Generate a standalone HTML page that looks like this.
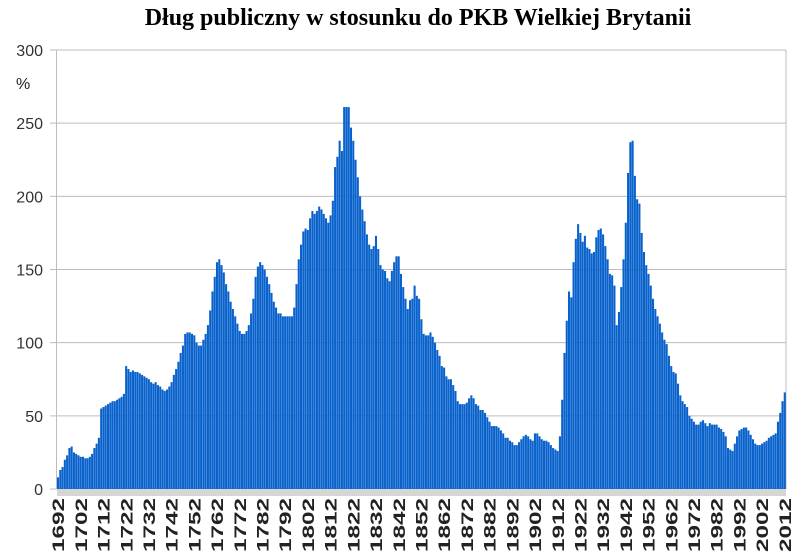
<!DOCTYPE html>
<html><head><meta charset="utf-8"><style>
body{margin:0;background:#fff;width:800px;height:554px;overflow:hidden}
svg{display:block}
</style></head><body>
<svg id="chart" width="800" height="554" xmlns="http://www.w3.org/2000/svg">
<text x="418" y="25" text-anchor="middle" font-family="Liberation Serif, serif" font-weight="bold" font-size="24" fill="#000">Dług publiczny w stosunku do PKB Wielkiej Brytanii</text>
<text x="16" y="89" font-family="Liberation Sans, sans-serif" font-size="16" fill="#222">%</text>
<g id="grid"></g><g id="bars"></g><g id="xaxis"></g>
</svg>
<script>
const startYear = 1692;
const yTicks = [0,50,100,150,200,250,300];
const debt = [
8,13,15,20,23,28,29,25,24,23,
22,22,21,21,22,24,28,31,35,55,
56,57,58,59,60,60,61,62,63,65,
84,82,80,81,80,80,79,78,77,76,
75,73,72,73,71,70,68,67,68,70,
73,78,82,87,93,98,106,107,107,106,
105,100,98,98,102,106,112,122,135,145,
155,157,153,148,140,135,128,123,118,113,
108,106,106,108,112,120,130,145,152,155,
153,150,145,140,134,128,124,120,120,118,
118,118,118,118,124,140,157,167,176,178,
177,185,190,188,190,193,191,188,185,182,
187,197,220,227,238,231,261,261,261,247,
238,225,213,200,191,183,174,167,164,166,
173,164,153,150,149,144,142,149,155,159,
159,147,138,130,123,129,130,139,132,130,
116,106,105,105,107,104,100,95,91,84,
83,77,75,75,71,67,60,58,58,58,
59,62,64,62,58,57,54,54,52,49,
46,43,43,43,42,40,38,35,35,33,
32,30,30,32,34,36,37,36,34,33,
38,38,36,34,33,33,32,30,28,27,
26,36,61,93,115,135,131,155,171,181,
175,169,173,165,164,161,162,172,177,178,
174,166,157,147,146,139,112,121,138,157,
182,216,237,238,214,198,195,175,162,153,
147,139,130,123,118,113,107,102,99,91,
84,80,79,72,64,60,58,56,50,48,
46,44,44,46,47,45,43,45,44,44,
44,42,41,39,36,28,27,26,31,36,
40,41,42,42,40,37,34,31,30,30,
31,32,33,35,36,37,38,46,52,60,66
];
const NS="http://www.w3.org/2000/svg";
const X0=57, X1=786, Y0=489, PXU=1.4633;
const n=debt.length, step=(X1-X0)/n;
const xs=i=>X0+i*step;
const ys=v=>Y0-v*PXU;
function mk(t,a,p){const e=document.createElementNS(NS,t);for(const k in a)e.setAttribute(k,a[k]);p.appendChild(e);return e;}
const grid=document.getElementById('grid');
yTicks.forEach(t=>{
  const l=mk('line',{x1:50,x2:X1,y1:ys(t),y2:ys(t),stroke:'#bdbdbd','stroke-width':1},grid);
  
  
  const tx=mk('text',{x:43,y:ys(t)+6,'text-anchor':'end','font-family':'Liberation Sans, sans-serif','font-size':16,fill:'#333'},grid);
  tx.textContent=t;
  
  
});
const ax=mk('line',{x1:X0-0.5,x2:X0-0.5,y1:ys(300),y2:Y0,stroke:'#bdbdbd'},grid);


const rb=mk('line',{x1:X1,x2:X1,y1:ys(300),y2:Y0,stroke:'#bdbdbd'},grid);


const bars=document.getElementById('bars');
debt.forEach((v,i)=>{
  const r=mk('rect',{x:xs(i),y:ys(v),width:step-0.2,height:v*PXU,fill:'#0962cc'},bars);
  
  
});
const xa=document.getElementById('xaxis');
const tb=mk('rect',{x:X0,y:Y0,width:X1-X0,height:7,fill:'#d6d6d6'},xa);


for(let i=0;i<n;i+=10){
  const cx=xs(i)+step/2+6;
  const t=mk('text',{x:0,y:0,transform:`translate(${cx},498) rotate(-90)`,'text-anchor':'end','font-family':'Liberation Sans, sans-serif','font-size':17,'font-weight':'bold',fill:'#222',textLength:54,lengthAdjust:'spacingAndGlyphs'},xa);
  t.textContent=startYear+i;
  
  
}
</script>
</body></html>
